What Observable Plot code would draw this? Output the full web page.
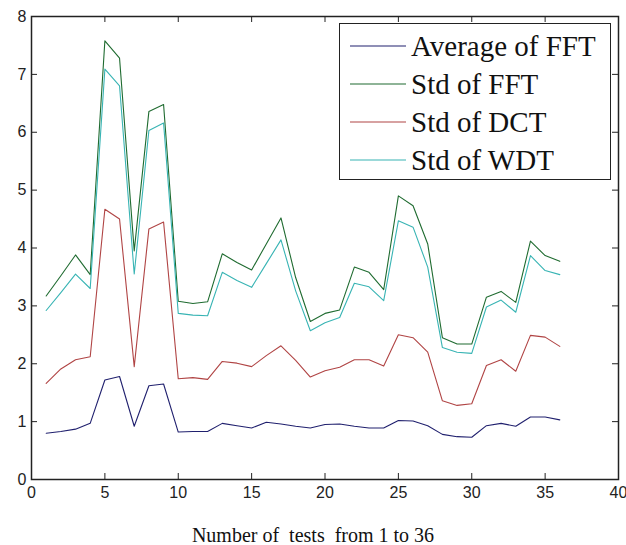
<!DOCTYPE html>
<html>
<head>
<meta charset="utf-8">
<script src="https://cdn.jsdelivr.net/npm/d3@7"></script>
<script src="https://cdn.jsdelivr.net/npm/@observablehq/plot@0.6"></script>
<style>
  body { margin: 0; background: #fff; }
  #wrap { position: relative; width: 626px; height: 545px; overflow: hidden; }
  #chart svg { display: block; }
  #legend {
    position: absolute; left: 339px; top: 23px; width: 272px; height: 157px;
    box-sizing: border-box; border: 1px solid #222; background: #fff;
    padding: 3px 0 0 10px;
    font-family: "Liberation Serif", "Times New Roman", serif; font-size: 29px; color: #111;
  }
  .row { display: flex; align-items: center; height: 38px; }
  .row svg { width: 56px; height: 10px; margin-right: 5px; flex: none; }
  #caption {
    width: 626px; height: 30px; text-align: center; white-space: pre;
    font-family: "Liberation Serif", "Times New Roman", serif; font-size: 20px; color: #111;
    line-height: 30px; padding-top: 5px; box-sizing: border-box;
  }
</style>
</head>
<body>
<div id="wrap">
  <div id="chart"></div>
  <div id="legend"></div>
  <div id="caption"></div>
</div>
<script>
const tests = [1,2,3,4,5,6,7,8,9,10,11,12,13,14,15,16,17,18,19,20,21,22,23,24,25,26,27,28,29,30,31,32,33,34,35,36];
const avgFFT = [0.80,0.83,0.87,0.97,1.72,1.78,0.92,1.62,1.65,0.82,
                0.83,0.83,0.97,0.93,0.89,0.99,0.96,0.92,0.89,0.95,
                0.96,0.92,0.89,0.89,1.02,1.01,0.93,0.78,0.74,0.73,
                0.93,0.97,0.92,1.08,1.08,1.03];
const stdFFT = [3.17,3.52,3.88,3.54,7.58,7.28,3.95,6.36,6.48,3.08,
                3.04,3.07,3.90,3.75,3.62,4.07,4.52,3.49,2.73,2.87,
                2.93,3.67,3.58,3.28,4.90,4.73,4.07,2.45,2.34,2.34,
                3.15,3.25,3.06,4.12,3.87,3.77];
const stdDCT = [1.66,1.91,2.07,2.12,4.67,4.50,1.95,4.33,4.45,1.74,
                1.76,1.73,2.04,2.01,1.95,2.14,2.31,2.06,1.77,1.88,
                1.94,2.07,2.07,1.96,2.50,2.45,2.20,1.36,1.28,1.31,
                1.97,2.07,1.87,2.49,2.46,2.30];
const stdWDT = [2.92,3.23,3.55,3.30,7.09,6.80,3.55,6.03,6.16,2.87,
                2.84,2.83,3.58,3.44,3.32,3.73,4.14,3.26,2.57,2.71,
                2.80,3.39,3.33,3.09,4.47,4.36,3.67,2.28,2.20,2.18,
                2.98,3.10,2.89,3.87,3.61,3.54];
const seriesNames = ["Average of FFT", "Std of FFT", "Std of DCT", "Std of WDT"];
const seriesColors = ["#20206e", "#1f6b30", "#b04444", "#38b4b4"];
const xTicks = [0,5,10,15,20,25,30,35,40];
const yTicks = [0,1,2,3,4,5,6,7,8];
const xLabel = "Number of  tests  from 1 to 36";

const seriesValues = [avgFFT, stdFFT, stdDCT, stdWDT];
const data = [];
seriesNames.forEach((name, i) => {
  tests.forEach((t, j) => data.push({series: name, test: t, value: seriesValues[i][j]}));
});

const W = 626, H = 515, ML = 31, MR = 8, MT = 16, MB = 36, TICK = 6;
const frameW = W - ML - MR, frameH = H - MT - MB;
const tk = {stroke: "#222", strokeWidth: 1};
const chart = Plot.plot({
  width: W,
  height: H,
  marginLeft: ML,
  marginRight: MR,
  marginTop: MT,
  marginBottom: MB,
  style: {fontFamily: "'Liberation Sans', Arial, sans-serif", fontSize: "16px", background: "#fff", color: "#222"},
  x: {domain: [0, 40]},
  y: {domain: [0, 8]},
  color: {domain: seriesNames, range: seriesColors},
  marks: [
    Plot.line(data, {x: "test", y: "value", stroke: "series", strokeWidth: 1.1}),
    Plot.axisX({anchor: "bottom", ticks: xTicks, tickSize: 0, tickPadding: 7, label: null, fill: "#222"}),
    Plot.axisY({anchor: "left", ticks: yTicks, tickSize: 0, tickPadding: 5, label: null, fill: "#222"}),
    Plot.ruleX(xTicks, {x: d => d, insetTop: frameH - TICK, ...tk}),
    Plot.ruleX(xTicks, {x: d => d, insetBottom: frameH - TICK, ...tk}),
    Plot.ruleY(yTicks, {y: d => d, insetRight: frameW - TICK, ...tk}),
    Plot.ruleY(yTicks, {y: d => d, insetLeft: frameW - TICK, ...tk}),
    Plot.frame({stroke: "#222", strokeWidth: 1.5})
  ]
});
document.getElementById("chart").appendChild(chart);

const legend = document.getElementById("legend");
seriesNames.forEach((name, i) => {
  const row = document.createElement("div");
  row.className = "row";
  row.innerHTML = `<svg viewBox="0 0 56 10"><line x1="0" y1="5" x2="56" y2="5" stroke="${seriesColors[i]}" stroke-width="1.2"/></svg><span>${name}</span>`;
  legend.appendChild(row);
});
document.getElementById("caption").textContent = xLabel;
</script>
</body>
</html>
